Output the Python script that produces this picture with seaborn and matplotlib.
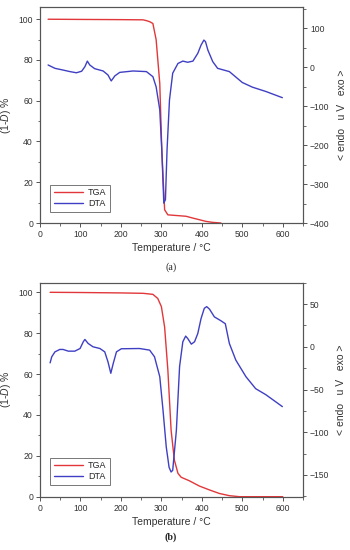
import matplotlib
matplotlib.use("Agg")
import matplotlib.pyplot as plt
import seaborn as sns
import pandas as pd
from matplotlib.ticker import MultipleLocator
from matplotlib.lines import Line2D

# ---------------- data: panel (a) ----------------
tga_a_T = [20, 100, 200, 255, 263, 271, 279, 287, 296, 301, 308, 316, 361, 378, 394, 410, 427, 447]
tga_a_v = [100, 99.9, 99.8, 99.7, 99.3, 98.8, 97.9, 90, 68.5, 36, 6.5, 4, 3.3, 2.4, 1.6, 0.8, 0.3, 0]

dta_a_T = [20, 37, 57, 74, 90, 103, 111, 117, 123, 135, 156, 168, 176, 185, 197, 230, 263,
           279, 287, 296, 301, 306, 310, 314, 320, 328, 341, 353, 365, 378, 390, 398, 405,
           409, 415, 427, 439, 468, 476, 500, 525, 558, 599]
dta_a_v = [6, -2.6, -7, -11, -14, -10, 1.7, 16, 6, -3.4, -9.4, -19.7, -35, -22, -13, -9.4, -11,
           -24, -50, -109, -212, -349, -340, -212, -84, -15, 10, 16, 13, 16, 36, 57, 70,
           66, 44, 14.5, -2.6, -11, -18, -39, -51, -62, -78]

# ---------------- data: panel (b) ----------------
tga_b_T = [25, 100, 200, 255, 279, 291, 300, 308, 316, 324, 332, 341, 349, 369, 394, 419, 443, 468, 493, 600]
tga_b_v = [100, 99.9, 99.7, 99.5, 99, 97, 93, 83, 62, 32.6, 18, 11.4, 9.5, 7.8, 5.2, 3.3, 1.6, 0.5, 0, 0]

dta_b_T = [25, 29, 37, 49, 57, 70, 86, 99, 107, 111, 119, 131, 148, 160, 168, 175, 181, 189, 201,
           246, 271, 283, 296, 304, 312, 319, 324, 328, 337, 345, 353, 360, 365, 374, 382, 390,
           398, 406, 412, 419, 431, 447, 458, 468, 484, 509, 533, 558, 583, 599]
dta_b_v = [-18.8, -11.7, -5.9, -3.1, -3.1, -5.1, -5.1, -2, 5.9, 8.6, 3.9, 0, -2, -5.9, -17.6, -31, -19.5, -5.9, -2.3,
           -2, -3.9, -11.7, -35, -74, -117, -141, -146.5, -144.5, -98, -23, 5.9, 12.5, 9.8, 3.1, 5.9, 15.6,
           33, 45, 47, 44, 35, 30.5, 27, 3.9, -15.6, -35, -49, -56, -64.5, -70]

x_ticks = [0, 100, 200, 300, 400, 500, 600]
left_ticks = [0, 20, 40, 60, 80, 100]
right_ticks_a = [-400, -300, -200, -100, 0, 100]
right_ticks_b = [-150, -100, -50, 0, 50]

RED = "#e2373a"
BLUE = "#3f3fc4"
GRAY = "#555555"

sns.set_style("ticks")
plt.rcParams["font.family"] = ["Liberation Sans", "DejaVu Sans"]
plt.rcParams["mathtext.fontset"] = "custom"
plt.rcParams["mathtext.rm"] = "Liberation Sans"
plt.rcParams["mathtext.it"] = "Liberation Sans:italic"

fig = plt.figure(figsize=(3.5, 5.5), dpi=100)

panels = [
    dict(rect=[40/350, 1-223/550, 263/350, 216/550], tT=tga_a_T, tv=tga_a_v, dT=dta_a_T, dv=dta_a_v,
         lylim=(0, 106), rylim=(-400, 155), rticks=right_ticks_a, rminor=50,
         cap="(a)", capy=1-267/550, capw="normal", leg_y=(223-212)/216),
    dict(rect=[40/350, 1-496.7/550, 263/350, 214/550], tT=tga_b_T, tv=tga_b_v, dT=dta_b_T, dv=dta_b_v,
         lylim=(0, 104.7), rylim=(-175.4, 75), rticks=right_ticks_b, rminor=25,
         cap="(b)", capy=1-537/550, capw="bold", leg_y=(496.7-485)/214),
]

for p in panels:
    ax = fig.add_axes(p["rect"])
    ax2 = ax.twinx()
    df_t = pd.DataFrame({"T": p["tT"], "v": p["tv"]})
    df_d = pd.DataFrame({"T": p["dT"], "v": p["dv"]})
    sns.lineplot(data=df_t, x="T", y="v", ax=ax, color=RED, lw=1.0, sort=False)
    sns.lineplot(data=df_d, x="T", y="v", ax=ax2, color=BLUE, lw=1.0, sort=False)
    ax.set_xlim(0, 650)
    ax.set_ylim(*p["lylim"])
    ax2.set_ylim(*p["rylim"])
    ax.set_xticks(x_ticks)
    ax.set_yticks(left_ticks)
    ax2.set_yticks(p["rticks"])
    ax.xaxis.set_minor_locator(MultipleLocator(50))
    ax.yaxis.set_minor_locator(MultipleLocator(10))
    ax2.yaxis.set_minor_locator(MultipleLocator(p["rminor"]))
    for a in (ax, ax2):
        a.tick_params(which="major", direction="out", length=3, width=0.7, colors=GRAY,
                      labelsize=6.2, labelcolor="#333333", pad=2)
        a.tick_params(which="minor", direction="out", length=1.8, width=0.6, colors=GRAY)
        for s in a.spines.values():
            s.set_visible(True)
            s.set_color(GRAY)
            s.set_linewidth(0.8)
    ax.set_xlabel("Temperature / °C", fontsize=7.5, color="#333333", labelpad=3)
    ax.set_ylabel("(1-$\\it{D}$) %", fontsize=7.5, color="#333333", labelpad=4)
    ax2.set_ylabel("< endo   u V   exo >", fontsize=7.5, color="#333333", rotation=90, labelpad=5)
    handles = [Line2D([], [], color=RED, lw=1.0), Line2D([], [], color=BLUE, lw=1.0)]
    leg = ax.legend(handles, ["TGA", "DTA"], loc="lower left",
                    bbox_to_anchor=(10/263, p["leg_y"]), fontsize=6.5, frameon=True,
                    fancybox=False, edgecolor=GRAY, handlelength=3.2, handletextpad=0.6,
                    borderpad=0.4, labelspacing=0.25, borderaxespad=0)
    leg.get_frame().set_linewidth(0.7)
    fig.text(171/350, p["capy"], p["cap"], ha="center", va="center", fontsize=7.2,
             fontweight=p["capw"], family=["Liberation Serif"])

fig.savefig("out.png", dpi=100, facecolor="white")
